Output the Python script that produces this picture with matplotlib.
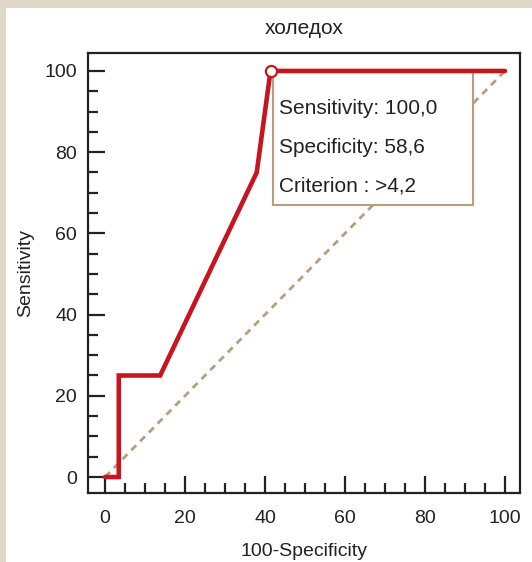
import numpy as np
import matplotlib.pyplot as plt
from matplotlib.patches import Rectangle
from matplotlib.ticker import MultipleLocator

plt.rcParams['font.family'] = ['Liberation Sans', 'DejaVu Sans']

# ROC curve points (100-Specificity, Sensitivity)
fpr = [0, 100 / 29, 100 / 29, 400 / 29, 1100 / 29, 1200 / 29, 100]
tpr = [0, 0, 25, 25, 75, 100, 100]
cut_x = 1200 / 29
cut_y = 100
box_lines = ["Sensitivity: 100,0", "Specificity: 58,6", "Criterion : >4,2"]
title = "холедох"

red = '#c8141e'
tan = '#b59f80'

fig = plt.figure(figsize=(5.32, 5.62), dpi=100, facecolor='#e0d9c8')
fig.patches.append(Rectangle((6 / 532, 0), 1, 1 - 8 / 562, transform=fig.transFigure,
                             facecolor='white', edgecolor='none', zorder=-10))

ax = fig.add_axes([88 / 532, 1 - 493 / 562, 432 / 532, 440 / 562])
ax.set_xlim(-4.25, 103.75)
ax.set_ylim(-3.94, 104.43)

ax.plot([0, 100], [0, 100], color=tan, lw=2, dashes=(2.5, 2), zorder=2)
ax.plot(fpr, tpr, color=red, lw=3.3, solid_joinstyle='miter',
        solid_capstyle='round', zorder=5)
ax.plot([cut_x], [cut_y], 'o', ms=8, mfc='white', mec=red, mew=1.6, zorder=6)

# info box
ax.add_patch(Rectangle((0.4286, 0.6543), 0.4630, 0.3068, transform=ax.transAxes,
                       facecolor='white', edgecolor=tan, lw=1.5, zorder=4))
for i, s in enumerate(box_lines):
    ax.text(0.4421, 0.8745 - i * 0.0886, s, transform=ax.transAxes, fontsize=15,
            va='center', ha='left', color='#222222', zorder=6)

ax.xaxis.set_major_locator(MultipleLocator(20))
ax.xaxis.set_minor_locator(MultipleLocator(5))
ax.yaxis.set_major_locator(MultipleLocator(20))
ax.yaxis.set_minor_locator(MultipleLocator(5))
ax.tick_params(which='both', direction='in', width=1.6, color='#222222',
               labelsize=14, labelcolor='#222222')
ax.tick_params(axis='x', which='both', pad=12)
ax.tick_params(axis='y', which='both', pad=8)
ax.tick_params(which='major', length=12)
ax.tick_params(which='minor', length=7)
for sp in ax.spines.values():
    sp.set_linewidth(1.6)
    sp.set_color('#222222')

ax.set_xlabel('100-Specificity', fontsize=14, color='#222222', labelpad=12)
ax.set_ylabel('Sensitivity', fontsize=14, color='#222222', labelpad=7)
ax.set_title(title, fontsize=15, color='#222222', pad=14)

fig.savefig('out.png', dpi=100, facecolor=fig.get_facecolor())
